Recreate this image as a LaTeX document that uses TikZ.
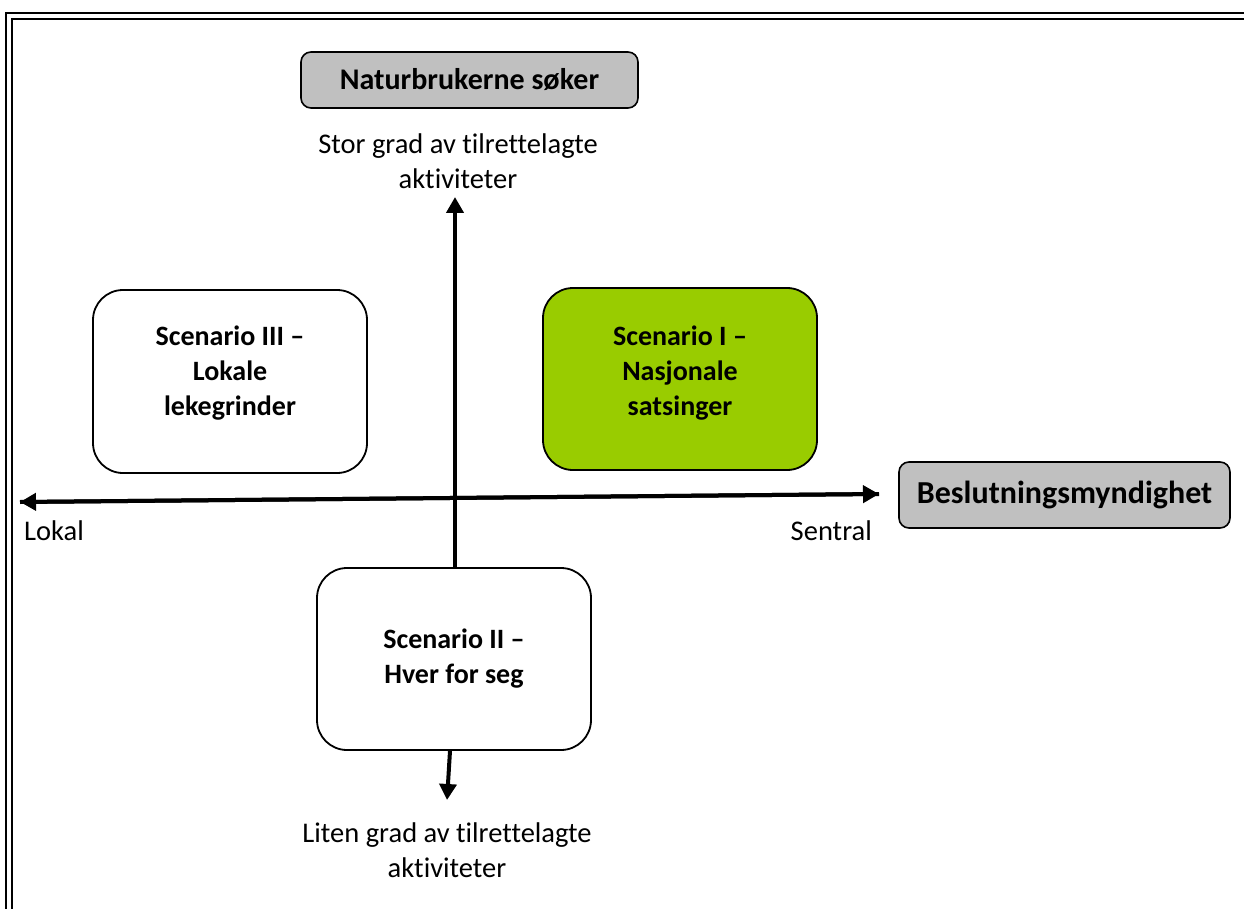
\documentclass[tikz,border=0pt]{standalone}
\usepackage{fontspec}
\setmainfont{Carlito}[Ligatures={NoCommon}]
\usetikzlibrary{arrows.meta}
\definecolor{hdrgray}{HTML}{C0C0C0}
\definecolor{scgreen}{HTML}{99CC00}
\newcommand{\liftlines}[2]{\raisebox{#1}[\height][\depth]{\begin{tabular}{@{}c@{}}#2\end{tabular}}}
\tikzset{
  hdrbox/.style={draw=black, line width=1.6pt, fill=hdrgray, rounded corners=10pt, inner sep=0pt, font=\fontsize{30}{34}\selectfont\bfseries},
  scbox/.style={draw=black, line width=1.8pt, rounded corners=30pt, inner sep=0pt, font=\fontsize{28}{35}\selectfont\bfseries},
  axislabel/.style={inner sep=0pt, align=center, font=\fontsize{28.5}{35}\selectfont},
  axis/.style={line width=4pt, -{Triangle[length=16pt,width=17pt]}},
  frameline/.style={line width=2.4pt}
}
\begin{document}
\begin{tikzpicture}[x=1pt,y=-1pt]
\useasboundingbox (0,0) rectangle (1244,909);
% frame
\draw[frameline] (6,909) -- (6,13) -- (1244,13);
\draw[frameline] (12,909) -- (12,19) -- (1244,19);
% header boxes
\node[hdrbox, minimum width=337pt, minimum height=56pt] (nat) at (469.5,80) {Naturbrukerne søker};
\node[hdrbox, font=\fontsize{32}{36}\selectfont\bfseries, minimum width=331pt, minimum height=66pt] (bes) at (1064.5,495) {Beslutningsmyndighet};
% scenario boxes
\node[scbox, minimum width=274pt, minimum height=183pt] (s3) at (230,381.5) {\liftlines{8pt}{Scenario III –\\Lokale\\lekegrinder}};
\node[scbox, fill=scgreen, minimum width=274pt, minimum height=182pt] (s1) at (680,379) {\liftlines{6pt}{Scenario I –\\Nasjonale\\satsinger}};
\node[scbox, minimum width=274pt, minimum height=182pt] (s2) at (454,659) {\liftlines{0pt}{Scenario II –\\Hver for seg}};
% axis labels
\node[axislabel] (stor) at (458,161) {Stor grad av tilrettelagte\\aktiviteter};
\node[axislabel] (liten) at (447,850) {Liten grad av tilrettelagte\\aktiviteter};
\node[axislabel, anchor=west] (lokal) at (24,531) {Lokal};
\node[axislabel, anchor=east] (sentral) at (872,531) {Sentral};
% axes
\coordinate (vtop) at (455,197);
\coordinate (vbot) at (447,800);
\coordinate (hleft) at (20,502);
\coordinate (hright) at (879,494);
\draw[axis] (s2.north -| vtop) -- (vtop);
\draw[axis] (s2.south -| 450,0) -- (vbot);
\draw[axis] (hright) -- (hleft);
\draw[axis] (hleft) -- (hright);
\end{tikzpicture}
\end{document}
